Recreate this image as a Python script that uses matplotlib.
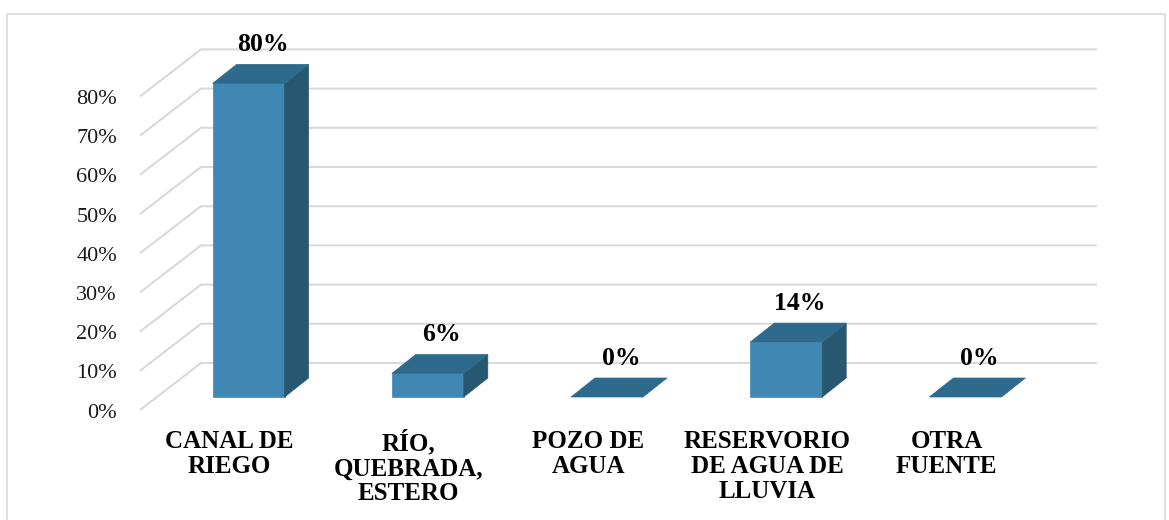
import matplotlib

matplotlib.use("Agg")
import matplotlib.pyplot as plt
import matplotlib.patches as mpatches

plt.rcParams["font.family"] = ["Liberation Serif", "DejaVu Serif"]

# ── data ──────────────────────────────────────────────────────────────
categories = [
    "CANAL DE\nRIEGO",
    "RÍO,\nQUEBRADA,\nESTERO",
    "POZO DE\nAGUA",
    "RESERVORIO\nDE AGUA DE\nLLUVIA",
    "OTRA\nFUENTE",
]
values = [80, 6, 0, 14, 0]
y_ticks = [0, 10, 20, 30, 40, 50, 60, 70, 80]

# ── geometry (pixels, dpi = 100) ──────────────────────────────────────
W, H = 1169, 520
AX_L, AX_R = 140, 1036          # front floor edge
AX_B = 410                      # 0 % on the front plane (from top)
PX_PCT = 3.92                   # pixels per percent
PX_CAT = (AX_R - AX_L) / len(categories)
WALL = (61, 47)                 # depth offset of the back wall
FRONT = (19, 13)                # depth offset of a bar front face
BACK = (19 + 24, 13 + 19)       # depth offset of a bar back face
HALF_W = 36 / PX_CAT

C_FRONT = "#3f88b3"
C_TOP = "#2e6a8b"
C_SIDE = "#28586f"
C_GRID = "#d9d9d9"

fig = plt.figure(figsize=(W / 100, H / 100), dpi=100)
fig.patch.set_facecolor("white")
ax = fig.add_axes([AX_L / W, (H - AX_B) / H, (AX_R - AX_L) / W,
                   max(y_ticks) * PX_PCT / H])
ax.set_xlim(-0.5, len(categories) - 0.5)
ax.set_ylim(0, max(y_ticks))
ax.axis("off")


def pt(x, v, off):
    """Shift a (category, percent) point back in depth by a pixel offset."""
    return (x + off[0] / PX_CAT, v + off[1] / PX_PCT)


# back wall grid + left-side diagonals
x0, x1 = -0.5, len(categories) - 0.5
for v in y_ticks:
    a = (x0, v)
    b = pt(x0, v, WALL)
    c = pt(x1, v, WALL)
    ax.plot([a[0], b[0], c[0]], [a[1], b[1], c[1]], color=C_GRID, lw=1.5,
            zorder=1, clip_on=False, solid_capstyle="butt")
    ax.annotate(f"{v}%", (x0, v), xytext=(-23, -3), textcoords="offset pixels",
                ha="right", va="center", fontsize=16, color="#1a1a1a")

# 3D bars
for i, v in enumerate(values):
    l, r = i - HALF_W, i + HALF_W
    front = [pt(l, 0, FRONT), pt(r, 0, FRONT), pt(r, v, FRONT), pt(l, v, FRONT)]
    top = [pt(l, v, FRONT), pt(r, v, FRONT), pt(r, v, BACK), pt(l, v, BACK)]
    side = [pt(r, 0, FRONT), pt(r, v, FRONT), pt(r, v, BACK), pt(r, 0, BACK)]
    if v > 0:
        ax.add_patch(mpatches.Polygon(front, closed=True, fc=C_FRONT, ec=C_FRONT,
                                      lw=0.5, zorder=3, clip_on=False))
        ax.add_patch(mpatches.Polygon(side, closed=True, fc=C_SIDE, ec=C_SIDE,
                                      lw=0.5, zorder=3, clip_on=False))
    ax.add_patch(mpatches.Polygon(top, closed=True, fc=C_TOP, ec=C_TOP,
                                  lw=0.5, zorder=3, clip_on=False))
    ax.annotate(f"{v}%", (i, v), xytext=(FRONT[0] + 14, FRONT[1] + 32),
                textcoords="offset pixels", ha="center", va="baseline",
                fontsize=18.5, fontweight="bold", color="black", zorder=4)

# category labels
for i, lab in enumerate(categories):
    ax.annotate(lab, (i, 0), xytext=(0, -20), textcoords="offset pixels",
                ha="center", va="top", fontsize=18, fontweight="bold",
                linespacing=1.1, color="black")

# chart frame
fig.patches.append(mpatches.Rectangle(
    (7 / W, -0.1), (1165 - 7) / W, (H - 14) / H + 0.1,
    transform=fig.transFigure, fill=False, ec=C_GRID, lw=1.2))

fig.savefig("out.png", dpi=100, facecolor="white")
plt.close(fig)
